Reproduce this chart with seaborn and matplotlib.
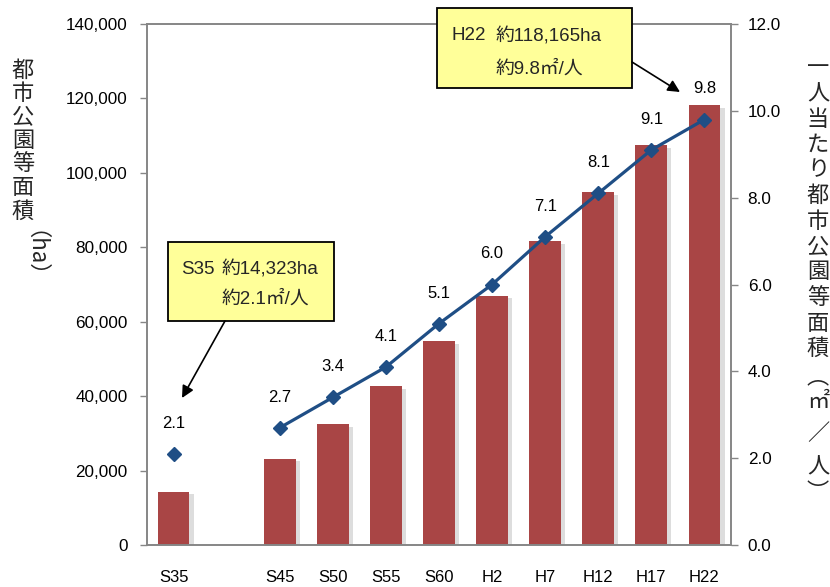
import numpy as np
import pandas as pd
import matplotlib
matplotlib.use("Agg")
import matplotlib.pyplot as plt
import matplotlib.patheffects as pe
from matplotlib.patches import Rectangle, FancyArrowPatch
from matplotlib.ticker import FuncFormatter, FixedLocator
import seaborn as sns

# ---- data ----
categories = ["S35", "S40", "S45", "S50", "S55", "S60", "H2", "H7", "H12", "H17", "H22"]
tick_labels = ["S35", "", "S45", "S50", "S55", "S60", "H2", "H7", "H12", "H17", "H22"]
area_ha = [14323, np.nan, 23200, 32400, 42700, 54800, 67000, 81700, 94800, 107500, 118165]
per_capita = [2.1, np.nan, 2.7, 3.4, 4.1, 5.1, 6.0, 7.1, 8.1, 9.1, 9.8]
left_ticks = [0, 20000, 40000, 60000, 80000, 100000, 120000, 140000]
right_ticks = [0.0, 2.0, 4.0, 6.0, 8.0, 10.0, 12.0]

left_label_main = "都市公園等面積"
left_label_unit = "（ha）"
right_label_main = "一人当たり都市公園等面積"
right_label_unit = ["︵", "㎡", "／", "人", "︶"]
note_s35 = ("S35", "約14,323ha", "約2.1㎡/人")
note_h22 = ("H22", "約118,165ha", "約9.8㎡/人")

sns.set_theme(style="white")
plt.rcParams["font.family"] = ["Liberation Sans", "Noto Sans CJK JP", "DejaVu Sans"]

W, H = 830, 587
fig = plt.figure(figsize=(W / 100, H / 100), dpi=100)

def fx(px):
    return px / W

def fy(py):
    return 1 - py / H

ax = fig.add_axes([fx(147), fy(545), fx(731) - fx(147), fy(24) - fy(545)])

df = pd.DataFrame({"cat": categories, "area": area_ha})
bar_color = "#A94545"
sns.barplot(data=df, x="cat", y="area", order=categories, color=bar_color,
            saturation=1, width=0.6, ax=ax, edgecolor="none")
for p in ax.patches:
    p.set_path_effects([pe.SimplePatchShadow(offset=(3, -2), shadow_rgbFace="#909090", alpha=0.3),
                        pe.Normal()])

grey = "#868686"
ax.set_ylim(0, 140000)
ax.set_xlim(-0.5, len(categories) - 0.5)
ax.yaxis.set_major_locator(FixedLocator(left_ticks))
ax.yaxis.set_major_formatter(FuncFormatter(lambda v, p: f"{int(v):,}"))
ax.set_xticks(range(len(categories)))
ax.set_xticklabels(tick_labels)
ax.set_xlabel("")
ax.set_ylabel("")
ax.tick_params(axis="x", length=0, pad=18, labelsize=12, colors="black")
ax.tick_params(axis="y", direction="out", length=5, width=1, color=grey, pad=9,
               labelsize=12.3, labelcolor="black", left=True)
for s in ["left", "bottom", "top", "right"]:
    ax.spines[s].set_color(grey)
    ax.spines[s].set_linewidth(1.2)

ax2 = ax.twinx()
ax2.set_ylim(0, 12)
ax2.yaxis.set_major_locator(FixedLocator(right_ticks))
ax2.yaxis.set_major_formatter(FuncFormatter(lambda v, p: f"{v:.1f}"))
ax2.tick_params(axis="y", direction="out", length=5, width=1, color=grey, pad=7,
                labelsize=12.3, labelcolor="black", right=True)
for s in ["left", "bottom", "top", "right"]:
    ax2.spines[s].set_color(grey)
    ax2.spines[s].set_linewidth(1.2)

line_color = "#1F4E85"
xpos = np.arange(len(categories))
ax2.plot(xpos, per_capita, color=line_color, lw=2.3, marker="D", ms=7.5,
         mfc=line_color, mec=line_color, zorder=5)

for x, v in zip(xpos, per_capita):
    if not np.isnan(v):
        ax2.annotate(f"{v:.1f}", xy=(x, v), xytext=(0, 22), textcoords="offset points",
                     ha="center", va="center", fontsize=12, color="black")

# axis titles (vertical Japanese)
cjk = ["Noto Sans CJK JP", "DejaVu Sans"]
for i, ch in enumerate(left_label_main):
    fig.text(fx(23), fy(70 + i * 23.5), ch, ha="center", va="center", fontsize=16, family=cjk)
fig.text(fx(23), fy(265), left_label_unit, ha="center", va="center", fontsize=16,
         rotation=-90, family=cjk)

for i, ch in enumerate(right_label_main):
    fig.text(fx(818), fy(68 + i * 25.5), ch, ha="center", va="center", fontsize=16, family=cjk)
for ch, yy in zip(right_label_unit, [377, 402, 434, 467, 492]):
    fig.text(fx(818), fy(yy), ch, ha="center", va="center", fontsize=16, family=cjk)

# annotation boxes
box_color = "#FFFF99"
mixed = ["Liberation Sans", "Noto Sans CJK JP"]

def note(x0, y0, x1, y1, lines, l1x, l2x, l1y, l2y, start, tip):
    fig.add_artist(Rectangle((fx(x0), fy(y1)), fx(x1) - fx(x0), fy(y0) - fy(y1),
                             transform=fig.transFigure, facecolor=box_color,
                             edgecolor="black", lw=1.3, zorder=10))
    fig.text(fx(l1x), fy(l1y), lines[0], ha="left", va="center", fontsize=13.5, zorder=11)
    fig.text(fx(l2x), fy(l1y), lines[1], ha="left", va="center", fontsize=13.5, zorder=11,
             family=mixed)
    fig.text(fx(l2x), fy(l2y), lines[2], ha="left", va="center", fontsize=13.5, zorder=11,
             family=mixed)
    fig.add_artist(FancyArrowPatch(
        (fx(start[0]), fy(start[1])), (fx(tip[0]), fy(tip[1])),
        transform=fig.transFigure, arrowstyle="-|>", mutation_scale=18,
        color="black", lw=1.2, shrinkA=0, shrinkB=0, zorder=12))

note(168, 242, 334, 321, note_s35, 181, 222, 269, 299, (225, 321), (182, 398))
note(437, 8, 632, 88, note_h22, 451, 496, 36, 69, (632, 62), (680, 92))

fig.savefig("out.png", dpi=100)
